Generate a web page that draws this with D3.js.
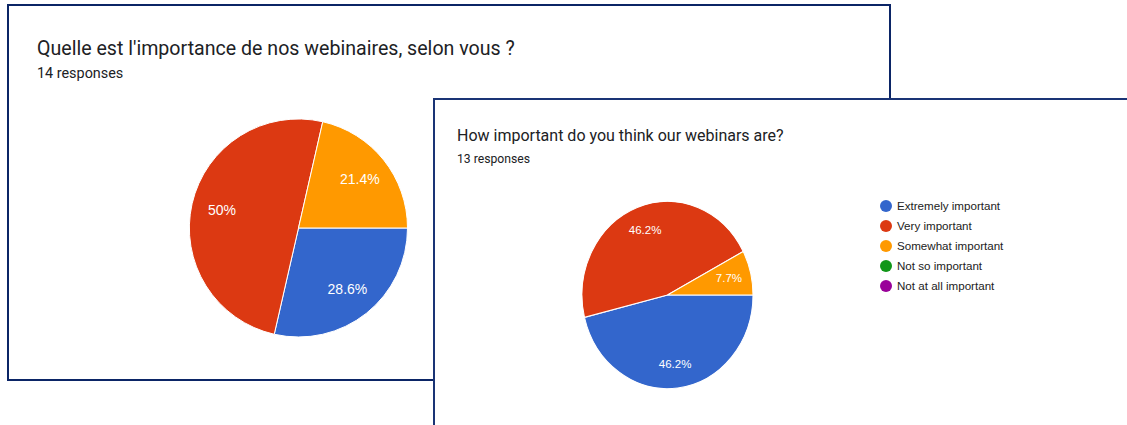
<!DOCTYPE html>
<meta charset="utf-8">
<style>
  body { margin: 0; background: #fff; }
  svg { display: block; }
  .title { font-family: Roboto, "Noto Sans", sans-serif; fill: #202124; }
  .sub { font-family: Roboto, "Noto Sans", sans-serif; fill: #202124; }
  .lbl { font-family: "Liberation Sans", Arial, sans-serif; fill: #fff; text-anchor: middle; }
  .leg { font-family: "Liberation Sans", Arial, sans-serif; fill: #222; }
</style>
<div id="chart"></div>
<script src="https://cdn.jsdelivr.net/npm/d3@7"></script>
<script>
// data
var categories = ["Extremely important", "Very important", "Somewhat important", "Not so important", "Not at all important"];
var sliceColors = ["#3366cc", "#dc3912", "#ff9900", "#109618", "#990099"];
var frCounts = [4, 7, 3, 0, 0];   // 14 responses
var enCounts = [6, 6, 1, 0, 0];   // 13 responses
var frTitle = "Quelle est l'importance de nos webinaires, selon vous ?";
var enTitle = "How important do you think our webinars are?";

var W = 1127, H = 425;
var svg = d3.select("#chart").append("svg").attr("width", W).attr("height", H);

var color = d3.scaleOrdinal().domain(categories).range(sliceColors);
var fmt = d3.format(".1~%");

// pie drawing, starts at 3 o'clock, clockwise
function drawPie(g, counts, r, sy, fontSize, labelK) {
  var total = d3.sum(counts);
  var rows = categories.map(function(c, i) { return {key: c, value: counts[i]}; });
  var pie = d3.pie().sort(null).value(function(d) { return d.value; })
      .startAngle(Math.PI / 2).endAngle(Math.PI / 2 + 2 * Math.PI);
  var arcs = pie(rows).filter(function(d) { return d.value > 0; });
  var arc = d3.arc().innerRadius(0).outerRadius(r);

  g.append("g").attr("transform", "scale(1," + sy + ")")
    .selectAll("path").data(arcs).enter().append("path")
      .attr("d", arc)
      .attr("fill", function(d) { return color(d.data.key); })
      .attr("stroke", "#fff").attr("stroke-width", 1);

  var lab = d3.arc().innerRadius(r * labelK).outerRadius(r * labelK);
  g.selectAll("text.lbl").data(arcs).enter().append("text")
    .attr("class", "lbl")
    .attr("x", function(d) { return lab.centroid(d)[0]; })
    .attr("y", function(d) { return lab.centroid(d)[1] * sy; })
    .attr("dy", "0.35em")
    .attr("font-size", fontSize)
    .text(function(d) { return fmt(d.value / total); });
}

// ---- card 1 (French)
var card1 = svg.append("g");
card1.append("rect").attr("x", 8).attr("y", 5).attr("width", 882).attr("height", 375)
  .attr("fill", "#fff").attr("stroke", "#0b2566").attr("stroke-width", 2);
card1.append("text").attr("class", "title").attr("x", 37).attr("y", 55)
  .attr("font-size", 19.6).text(frTitle);
card1.append("text").attr("class", "sub").attr("x", 37).attr("y", 78)
  .attr("font-size", 14.4).text(d3.sum(frCounts) + " responses");
drawPie(card1.append("g").attr("transform", "translate(298.5,228)"), frCounts, 109, 1, 14, 0.72);

// ---- card 2 (English)
var card2 = svg.append("g");
card2.append("rect").attr("x", 434).attr("y", 99).attr("width", 720).attr("height", 360)
  .attr("fill", "#fff").attr("stroke", "#1a3475").attr("stroke-width", 2);
card2.append("text").attr("class", "title").attr("x", 457).attr("y", 141)
  .attr("font-size", 16).text(enTitle);
card2.append("text").attr("class", "sub").attr("x", 457).attr("y", 163)
  .attr("font-size", 12.2).text(d3.sum(enCounts) + " responses");
drawPie(card2.append("g").attr("transform", "translate(667.5,295)"), enCounts, 85.5, 1.095, 11.5, 0.74);

// legend
var legend = card2.append("g").attr("transform", "translate(886,206)");
var items = legend.selectAll("g").data(categories).enter().append("g")
  .attr("transform", function(d, i) { return "translate(0," + (i * 20) + ")"; });
items.append("circle").attr("r", 6).attr("fill", function(d) { return color(d); });
items.append("text").attr("class", "leg").attr("x", 11).attr("dy", "0.35em")
  .attr("font-size", 11.6).text(function(d) { return d; });
</script>
